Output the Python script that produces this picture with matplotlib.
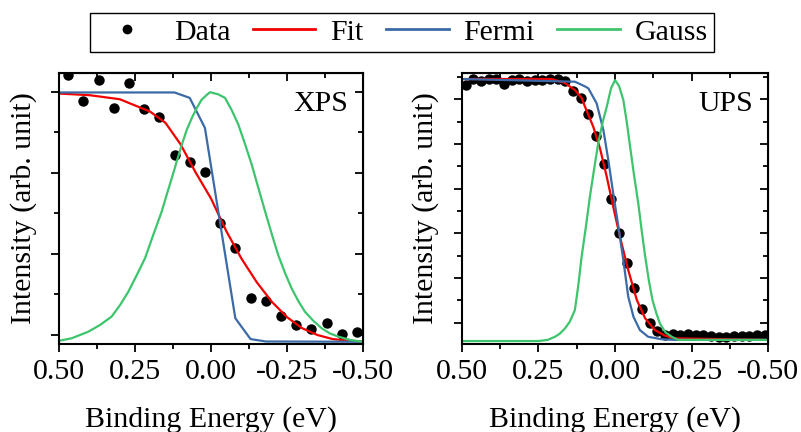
import matplotlib
matplotlib.use("Agg")
import matplotlib.pyplot as plt
from matplotlib.lines import Line2D
from matplotlib.ticker import MultipleLocator, FormatStrFormatter

plt.rcParams['font.family'] = ['Liberation Serif', 'DejaVu Serif']
plt.rcParams['font.size'] = 21.5
plt.rcParams['axes.unicode_minus'] = False

RED = '#f20000'
BLUE = '#3b6aa6'
GREEN = '#3ec46d'

# ---- XPS panel ----
xps_e = [0.47, 0.42, 0.37, 0.32, 0.27, 0.22, 0.17, 0.12, 0.07, 0.02,
         -0.03, -0.08, -0.13, -0.18, -0.23, -0.28, -0.33, -0.38, -0.43, -0.48]
xps_i = [0.963, 0.864, 0.942, 0.840, 0.932, 0.836, 0.806, 0.667, 0.640, 0.601,
         0.416, 0.323, 0.138, 0.127, 0.070, 0.037, 0.021, 0.046, 0.003, 0.010]

xps_fit_e = [0.5, 0.4, 0.3, 0.2, 0.15, 0.1, 0.05, 0.0, -0.05, -0.1, -0.15,
             -0.2, -0.25, -0.3, -0.35, -0.4, -0.45, -0.5]
xps_fit_i = [0.893, 0.887, 0.872, 0.826, 0.785, 0.705, 0.600, 0.505, 0.385, 0.283,
             0.196, 0.123, 0.066, 0.025, 0.000, -0.015, -0.021, -0.025]

xps_fermi_e = [0.5, 0.12, 0.07, 0.02, -0.08, -0.13, -0.18, -0.5]
xps_fermi_i = [0.897, 0.897, 0.877, 0.766, 0.062, -0.015, -0.024, -0.025]

xps_gauss_e = [0.502, 0.458, 0.404, 0.365, 0.327, 0.299, 0.272, 0.244, 0.217, 0.190,
               0.162, 0.146, 0.129, 0.113, 0.096, 0.080, 0.063, 0.047, 0.031, 0.014,
               0.003, -0.024, -0.046, -0.068, -0.090, -0.112, -0.134, -0.156, -0.178,
               -0.200, -0.221, -0.244, -0.265, -0.287, -0.309, -0.337, -0.364, -0.391,
               -0.419, -0.457, -0.5]
xps_gauss_i = [-0.022, -0.012, 0.012, 0.037, 0.068, 0.111, 0.160, 0.222, 0.284, 0.370,
               0.457, 0.518, 0.580, 0.641, 0.704, 0.758, 0.803, 0.839, 0.870, 0.888,
               0.898, 0.890, 0.877, 0.832, 0.778, 0.706, 0.630, 0.543, 0.457,
               0.373, 0.296, 0.228, 0.173, 0.126, 0.086, 0.052, 0.025, 0.006,
               -0.006, -0.018, -0.025]

# ---- UPS panel ----
ups_e = [0.4875, 0.4625, 0.4375, 0.4125, 0.3875, 0.3625, 0.3375, 0.3125, 0.2875, 0.2625,
         0.2375, 0.2125, 0.1875, 0.1625, 0.1375, 0.1125, 0.0875, 0.0625, 0.0375, 0.0125,
         -0.0125, -0.0375, -0.0625, -0.0875, -0.1125, -0.1375, -0.1625, -0.1875, -0.2125, -0.2375,
         -0.2625, -0.2875, -0.3125, -0.3375, -0.3625, -0.3875, -0.4125, -0.4375, -0.4625, -0.4875]
ups_i = [1.064, 1.091, 1.082, 1.091, 1.091, 1.067, 1.086, 1.091, 1.082, 1.086,
         1.086, 1.091, 1.091, 1.082, 1.037, 1.004, 0.934, 0.837, 0.709, 0.553,
         0.400, 0.265, 0.153, 0.059, -0.004, -0.037, -0.056, -0.052, -0.054, -0.052,
         -0.054, -0.058, -0.060, -0.064, -0.064, -0.062, -0.062, -0.060, -0.058, -0.055]

ups_fit_e = [0.5, 0.207, 0.163, 0.141, 0.131, 0.109, 0.098, 0.071, 0.049, 0.027, 0.006,
             -0.016, -0.043, -0.071, -0.098, -0.130, -0.163, -0.195, -0.5]
ups_fit_i = [1.091, 1.091, 1.073, 1.051, 1.042, 1.006, 0.967, 0.877, 0.780, 0.653, 0.519,
             0.384, 0.235, 0.101, 0.019, -0.034, -0.059, -0.071, -0.078]

ups_fermi_e = [0.5, 0.131, 0.098, 0.087, 0.060, 0.038, 0.022, 0.006, -0.011, -0.027,
               -0.043, -0.060, -0.081, -0.108, -0.152, -0.195, -0.5]
ups_fermi_i = [1.091, 1.079, 1.058, 1.049, 0.982, 0.862, 0.728, 0.579, 0.429, 0.280,
               0.116, 0.026, -0.034, -0.064, -0.075, -0.078, -0.078]

ups_gauss_e = [0.5, 0.250, 0.220, 0.196, 0.180, 0.163, 0.147, 0.131, 0.120, 0.109, 0.095,
               0.082, 0.068, 0.055, 0.040, 0.027, 0.013, 0.000, -0.013, -0.027, -0.038,
               -0.049, -0.062, -0.076, -0.087, -0.098, -0.110, -0.122, -0.135, -0.147,
               -0.165, -0.185, -0.206, -0.5]
ups_gauss_i = [-0.083, -0.083, -0.078, -0.064, -0.050, -0.026, 0.005, 0.056, 0.165, 0.295, 0.430,
               0.564, 0.690, 0.803, 0.900, 0.967, 1.050, 1.086, 1.060, 0.997, 0.900,
               0.788, 0.660, 0.531, 0.410, 0.298, 0.190, 0.101, 0.040, -0.007,
               -0.045, -0.064, -0.078, -0.078]

W, H = 801, 432
fig = plt.figure(figsize=(W / 100, H / 100), dpi=100)
ax1 = fig.add_axes([59 / W, 88 / H, 304 / W, 271 / H])
ax2 = fig.add_axes([461.7 / W, 88 / H, 306.7 / W, 271 / H])


def style(ax, major, minor, ylim, tag):
    ax.set_xlim(0.5, -0.5)
    ax.set_ylim(*ylim)
    ax.xaxis.set_major_locator(MultipleLocator(0.25))
    ax.xaxis.set_minor_locator(MultipleLocator(0.125))
    ax.xaxis.set_major_formatter(FormatStrFormatter('%.2f'))
    ax.yaxis.set_major_locator(MultipleLocator(major))
    ax.yaxis.set_minor_locator(MultipleLocator(minor))
    ax.tick_params(which='both', direction='out', width=1.3, labelleft=False, pad=5)
    ax.tick_params(which='major', length=6)
    ax.tick_params(which='minor', length=3.5)
    for s in ax.spines.values():
        s.set_linewidth(1.5)
    # mirrored ticks pointing inward
    top = ax.secondary_xaxis('top')
    top.xaxis.set_major_locator(MultipleLocator(0.25))
    top.xaxis.set_minor_locator(MultipleLocator(0.125))
    top.tick_params(which='both', direction='in', width=1.3, labeltop=False)
    top.tick_params(which='major', length=6)
    top.tick_params(which='minor', length=3.5)
    right = ax.secondary_yaxis('right')
    right.yaxis.set_major_locator(MultipleLocator(major))
    right.yaxis.set_minor_locator(MultipleLocator(minor))
    right.tick_params(which='both', direction='in', width=1.3, labelright=False)
    right.tick_params(which='major', length=6)
    right.tick_params(which='minor', length=3.5)
    ax.set_xlabel('Binding Energy (eV)', labelpad=15)
    ax.set_ylabel('Intensity (arb. unit)', labelpad=10)
    ax.text(0.95, 0.935, tag, transform=ax.transAxes, ha='right', va='top')


for ax, e, i, fe, fi, me, mi, ge, gi in [
        (ax1, xps_e, xps_i, xps_fit_e, xps_fit_i, xps_fermi_e, xps_fermi_i, xps_gauss_e, xps_gauss_i),
        (ax2, ups_e, ups_i, ups_fit_e, ups_fit_i, ups_fermi_e, ups_fermi_i, ups_gauss_e, ups_gauss_i)]:
    ax.plot(e, i, 'o', color='black', ms=7.5, mec='none')
    ax.plot(fe, fi, color=RED, lw=1.6)
    ax.plot(me, mi, color=BLUE, lw=1.6)
    ax.plot(ge, gi, color=GREEN, lw=1.6)

style(ax1, 0.3, 0.15, (-0.0333, 0.969), 'XPS')
style(ax2, 0.2, 0.1, (-0.0963, 1.118), 'UPS')

handles = [Line2D([], [], ls='none', marker='o', color='black', ms=6),
           Line2D([], [], color=RED, lw=2),
           Line2D([], [], color=BLUE, lw=2),
           Line2D([], [], color=GREEN, lw=2)]
leg = fig.legend(handles, ['Data', 'Fit', 'Fermi', 'Gauss'], loc='upper center',
                 bbox_to_anchor=(402 / W, 1 - 13 / H), ncol=4, frameon=True,
                 fancybox=False, edgecolor='black', framealpha=1,
                 handlelength=2.1, handletextpad=0.5, columnspacing=0.75,
                 borderpad=0.2, borderaxespad=0)
leg.get_frame().set_linewidth(1.0)

fig.savefig('out.png', dpi=100)
